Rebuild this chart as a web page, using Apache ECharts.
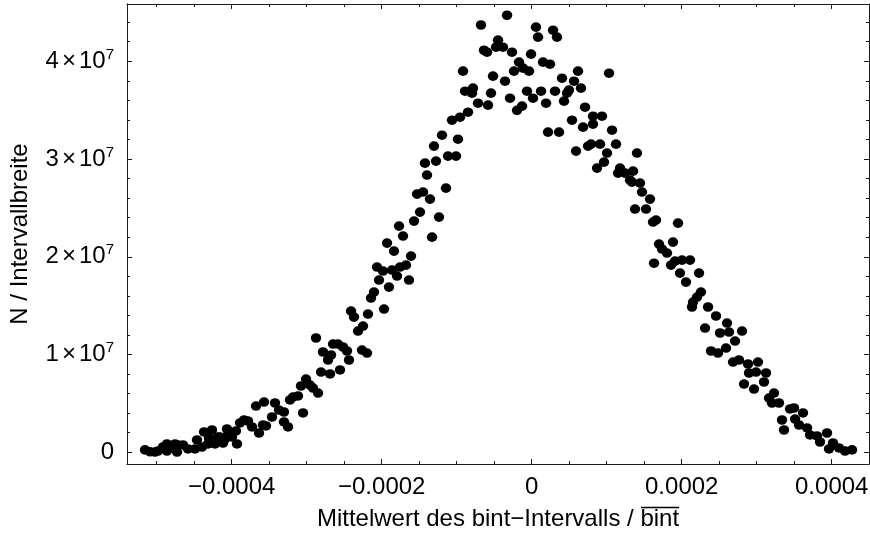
<!DOCTYPE html>
<html>
<head>
<meta charset="utf-8">
<script src="https://cdn.jsdelivr.net/npm/echarts@6/dist/echarts.min.js"></script>
<style>
html,body{margin:0;padding:0;background:#fff;}
#chart{width:870px;height:534px;}
</style>
</head>
<body>
<div id="chart"></div>
<script>
// ---------------- data ----------------
const xValues = [
  // left tail
  -5.156e-4,-5.089e-4,-5.023e-4,-4.983e-4,-4.916e-4,-4.863e-4,-4.863e-4,-4.796e-4,-4.756e-4,-4.729e-4,
  -4.716e-4,-4.649e-4,-4.583e-4,-4.489e-4,-4.463e-4,-4.396e-4,-4.369e-4,-4.316e-4,-4.303e-4,-4.263e-4,
  -4.223e-4,-4.183e-4,-4.156e-4,-4.116e-4,-4.089e-4,-4.063e-4,-4.049e-4,-3.996e-4,-3.943e-4,-3.929e-4,
  -3.889e-4,-3.836e-4,-3.783e-4,-3.729e-4,-3.676e-4,-3.636e-4,-3.583e-4,-3.569e-4,-3.543e-4,-3.463e-4,
  -3.423e-4,-3.369e-4,-3.303e-4,-3.303e-4,-3.249e-4,-3.223e-4,-3.183e-4,-3.116e-4,-3.076e-4,-3.049e-4,
  -3.009e-4,-2.956e-4,-2.916e-4,-2.849e-4,
  // rising flank
  -2.876e-4,-2.809e-4,-2.783e-4,-2.716e-4,-2.689e-4,-2.676e-4,-2.649e-4,-2.583e-4,-2.556e-4,-2.516e-4,
  -2.463e-4,-2.436e-4,-2.409e-4,-2.369e-4,-2.316e-4,-2.249e-4,-2.263e-4,-2.196e-4,-2.183e-4,-2.143e-4,
  -2.103e-4,-2.063e-4,-2.036e-4,-1.983e-4,-1.969e-4,-1.929e-4,-1.903e-4,-1.863e-4,-1.836e-4,-1.796e-4,
  -1.769e-4,-1.756e-4,-1.716e-4,-1.676e-4,-1.636e-4,-1.609e-4,-1.569e-4,-1.529e-4,-1.489e-4,-1.449e-4,
  -1.423e-4,-1.396e-4,-1.356e-4,-1.329e-4,-1.303e-4,-1.276e-4,-1.236e-4,-1.196e-4,-1.143e-4,-1.116e-4,
  -1.063e-4,-1.009e-4,-0.983e-4,-0.956e-4,-0.916e-4,-0.889e-4,-0.849e-4,-0.796e-4,-0.783e-4,-0.716e-4,
  // peak
  -0.676e-4,-0.636e-4,-0.596e-4,-0.583e-4,-0.543e-4,-0.516e-4,-0.476e-4,-0.449e-4,-0.383e-4,-0.356e-4,
  -0.329e-4,-0.289e-4,-0.263e-4,-0.236e-4,-0.196e-4,-0.169e-4,-0.129e-4,-0.116e-4,-0.063e-4,-0.036e-4,
  -0.009e-4,0.017e-4,0.057e-4,0.084e-4,0.124e-4,0.151e-4,0.191e-4,0.217e-4,0.244e-4,0.284e-4,
  0.311e-4,0.337e-4,0.364e-4,0.404e-4,0.431e-4,0.471e-4,0.497e-4,0.537e-4,0.564e-4,0.591e-4,
  0.617e-4,0.657e-4,0.684e-4,0.711e-4,0.751e-4,0.791e-4,0.817e-4,0.817e-4,0.871e-4,0.911e-4,
  0.937e-4,0.964e-4,1.004e-4,1.031e-4,1.071e-4,1.124e-4,1.151e-4,1.177e-4,1.244e-4,1.311e-4,
  1.337e-4,1.351e-4,1.404e-4,1.444e-4,1.471e-4,1.577e-4,1.377e-4,1.524e-4,
  // falling flank
  1.617e-4,1.657e-4,1.951e-4,1.697e-4,1.737e-4,1.804e-4,1.884e-4,1.631e-4,1.857e-4,1.911e-4,
  2.004e-4,2.111e-4,1.977e-4,2.231e-4,2.057e-4,2.257e-4,2.204e-4,2.151e-4,2.137e-4,2.351e-4,
  2.457e-4,2.311e-4,2.511e-4,2.604e-4,2.631e-4,2.804e-4,2.711e-4,2.391e-4,2.484e-4,2.591e-4,
  2.684e-4,2.764e-4,2.884e-4,3.017e-4,2.897e-4,2.991e-4,3.124e-4,2.831e-4,2.964e-4,3.097e-4,
  3.231e-4,3.164e-4,3.204e-4,3.297e-4,3.444e-4,3.497e-4,3.617e-4,3.337e-4,3.364e-4,3.511e-4,
  3.564e-4,3.671e-4,3.711e-4,3.804e-4,3.937e-4,3.844e-4,3.964e-4,4.017e-4,4.097e-4,4.177e-4,
  4.271e-4
];
const yValues = [
  // left tail
  0.24e6,0.05e6,0.02e6,0.13e6,0.54e6,0.85e6,0.13e6,0.54e6,0.85e6,0.02e6,
  0.75e6,0.75e6,0.34e6,0.34e6,1.26e6,0.54e6,2.08e6,0.85e6,1.46e6,2.28e6,
  0.85e6,1.56e6,1.56e6,0.95e6,1.36e6,2.38e6,1.77e6,1.56e6,2.18e6,0.85e6,
  3.00e6,3.30e6,3.20e6,2.59e6,4.73e6,1.97e6,2.79e6,5.14e6,2.69e6,3.61e6,
  5.04e6,4.32e6,4.12e6,3.10e6,2.59e6,5.35e6,5.65e6,5.76e6,6.78e6,4.02e6,
  7.49e6,6.88e6,6.57e6,6.06e6,
  // rising flank
  11.69e6,8.21e6,10.26e6,9.44e6,8.01e6,9.95e6,11.07e6,11.07e6,8.42e6,10.77e6,
  10.36e6,9.44e6,14.44e6,13.83e6,12.40e6,12.91e6,10.46e6,10.15e6,14.14e6,15.78e6,
  16.39e6,18.95e6,17.62e6,18.54e6,14.65e6,21.40e6,16.90e6,18.64e6,20.58e6,18.03e6,
  23.14e6,18.95e6,22.12e6,19.15e6,17.62e6,20.07e6,23.65e6,26.41e6,24.57e6,26.62e6,
  29.58e6,28.36e6,25.90e6,22.01e6,31.32e6,29.79e6,24.06e6,32.44e6,27.02e6,30.30e6,
  33.97e6,30.30e6,32.03e6,34.28e6,38.99e6,36.94e6,34.79e6,36.74e6,37.25e6,35.71e6,
  // peak
  43.71e6,41.13e6,40.93e6,35.51e6,36.74e6,38.48e6,41.44e6,42.16e6,41.44e6,37.96e6,
  44.71e6,36.22e6,40.93e6,38.99e6,34.98e6,39.91e6,35.41e6,39.30e6,36.94e6,38.99e6,
  40.73e6,36.22e6,43.49e6,42.47e6,36.94e6,39.91e6,35.71e6,32.75e6,39.70e6,43.18e6,
  36.94e6,42.47e6,32.75e6,38.27e6,35.92e6,36.74e6,37.05e6,33.97e6,37.96e6,30.81e6,
  38.99e6,37.25e6,33.26e6,35.30e6,31.32e6,31.52e6,33.57e6,34.38e6,29.07e6,31.52e6,
  34.38e6,29.68e6,30.61e6,38.78e6,32.95e6,31.52e6,28.56e6,29.07e6,28.56e6,27.84e6,
  27.64e6,28.76e6,30.61e6,27.54e6,26.62e6,25.90e6,24.88e6,24.88e6,
  // falling flank
  23.55e6,23.75e6,23.44e6,21.30e6,20.79e6,20.38e6,21.50e6,19.34e6,19.15e6,19.56e6,
  19.66e6,19.66e6,18.33e6,18.33e6,17.41e6,16.39e6,15.88e6,15.37e6,14.86e6,14.86e6,
  13.94e6,12.71e6,12.20e6,13.22e6,12.30e6,12.40e6,11.38e6,10.36e6,10.15e6,10.66e6,
  9.23e6,9.44e6,9.03e6,9.23e6,8.11e6,8.21e6,8.11e6,6.98e6,6.47e6,7.19e6,
  6.06e6,5.55e6,5.04e6,5.04e6,4.43e6,4.53e6,4.02e6,3.30e6,2.28e6,3.40e6,
  2.79e6,2.49e6,1.77e6,1.67e6,1.97e6,1.05e6,0.34e6,0.95e6,0.44e6,0.13e6,
  0.24e6
];

// axis ranges and ticks
const xMin = -5.396e-4, xMax = 4.497e-4;
const yMin = -1.2e6, yMax = 4.586e7;
const xTickValues = [-4e-4, -2e-4, 0, 2e-4, 4e-4];
const xTickLabels = ['\u22120.0004', '\u22120.0002', '0', '0.0002', '0.0004'];
const xMinorTickValues = [-5.0e-4,-4.5e-4,-3.5e-4,-3.0e-4,-2.5e-4,-1.5e-4,-1.0e-4,-0.5e-4,
                          0.5e-4,1.0e-4,1.5e-4,2.5e-4,3.0e-4,3.5e-4];
const yTickValues = [0, 1e7, 2e7, 3e7, 4e7];
const yTickMantissas = ['0', '1', '2', '3', '4'];
const yTickExponent = '7';
const yMinorTickValues = [2e6,4e6,6e6,8e6,12e6,14e6,16e6,18e6,22e6,24e6,26e6,28e6,
                          32e6,34e6,36e6,38e6,42e6,44e6];
const xTitleMain = 'Mittelwert des bint\u2212Intervalls / ';
const xTitleBar = 'bint';
const yTitle = 'N / Intervallbreite';

// ---------------- style ----------------
const FONT = '"Liberation Sans", Arial, Helvetica, sans-serif';
const FS = 24;
const FRAME = '#1a1a1a';
const GRID = {left: 127, right: 1, top: 4, bottom: 70};
const X_NAME_GAP = 43;

function findIdx(arr, v) {
  for (let i = 0; i < arr.length; i++) {
    if (Math.abs(arr[i] - v) <= Math.abs(arr[i]) * 1e-6 + 1e-12) return i;
  }
  return -1;
}

function xAxisDef(position, major, withLabels) {
  return {
    type: 'value', gridIndex: 0, position: position,
    min: xMin, max: xMax,
    splitLine: {show: false},
    axisLine: {show: major, onZero: false, lineStyle: {color: FRAME, width: 1}},
    axisTick: {show: true, inside: true, length: major ? 5 : 3,
      customValues: major ? xTickValues : xMinorTickValues,
      lineStyle: {color: FRAME, width: 1}},
    axisLabel: withLabels ? {
      show: true, customValues: xTickValues, margin: 11,
      fontFamily: FONT, fontSize: FS, color: '#000',
      formatter: function (v) { const i = findIdx(xTickValues, v); return i >= 0 ? xTickLabels[i] : ''; }
    } : {show: false},
    name: withLabels ? xTitleMain + xTitleBar : '',
    nameLocation: 'middle', nameGap: X_NAME_GAP,
    nameTextStyle: {fontFamily: FONT, fontSize: FS, color: '#000'}
  };
}

function yAxisDef(position, major, withLabels) {
  return {
    type: 'value', gridIndex: 0, position: position,
    min: yMin, max: yMax,
    splitLine: {show: false},
    axisLine: {show: major, onZero: false, lineStyle: {color: FRAME, width: 1}},
    axisTick: {show: true, inside: true, length: major ? 5 : 3,
      customValues: major ? yTickValues : yMinorTickValues,
      lineStyle: {color: FRAME, width: 1}},
    axisLabel: withLabels ? {
      show: true, customValues: yTickValues, margin: 13,
      fontFamily: FONT, fontSize: FS, color: '#000',
      formatter: function (v) {
        const i = findIdx(yTickValues, v);
        if (i < 0) return '';
        const m = yTickMantissas[i];
        if (m === '0') return '{m|0}';
        return '{m|' + m + '}{x|\u00d7}{m|10}{s|' + yTickExponent + '}';
      },
      rich: {
        m: {fontFamily: FONT, fontSize: FS, color: '#000', lineHeight: 28},
        x: {fontFamily: FONT, fontSize: FS, color: '#000', lineHeight: 28, padding: [0, 3, 0, 3]},
        s: {fontFamily: FONT, fontSize: 15, color: '#000', lineHeight: 15, verticalAlign: 'top'}
      }
    } : {show: false},
    name: withLabels ? yTitle : '',
    nameLocation: 'middle', nameGap: 95,
    nameTextStyle: {fontFamily: FONT, fontSize: FS, color: '#000'}
  };
}

// overline above the final "bint" of the x-axis title
function overlineGraphic() {
  const cv = document.createElement('canvas').getContext('2d');
  cv.font = FS + 'px ' + FONT;
  const wFull = cv.measureText(xTitleMain + xTitleBar).width;
  const wMain = cv.measureText(xTitleMain).width;
  const wBar = cv.measureText(xTitleBar).width;
  const plotW = 870 - GRID.left - GRID.right;
  const cx = GRID.left + plotW / 2;
  const x0 = cx - wFull / 2 + wMain;
  const axisY = 534 - GRID.bottom;
  const yBar = axisY + X_NAME_GAP + 0.5;
  return [{
    type: 'line', silent: true,
    shape: {x1: x0 + 0.5, y1: yBar, x2: x0 + wBar, y2: yBar},
    style: {stroke: '#000', lineWidth: 1.3}
  }];
}

const chart = echarts.init(document.getElementById('chart'), null, {renderer: 'canvas'});
const data = xValues.map((x, i) => [x, yValues[i]]);

chart.setOption({
  animation: false,
  backgroundColor: '#fff',
  grid: Object.assign({containLabel: false, outerBoundsMode: 'none'}, GRID),
  xAxis: [
    xAxisDef('bottom', true, true),
    xAxisDef('bottom', false, false),
    xAxisDef('top', true, false),
    xAxisDef('top', false, false)
  ],
  yAxis: [
    yAxisDef('left', true, true),
    yAxisDef('left', false, false),
    yAxisDef('right', true, false),
    yAxisDef('right', false, false)
  ],
  series: [{
    type: 'scatter',
    xAxisIndex: 0, yAxisIndex: 0,
    data: data,
    symbol: 'circle',
    symbolSize: [10.4, 9.6],
    itemStyle: {color: '#000', opacity: 1},
    emphasis: {disabled: true},
    silent: true
  }],
  graphic: overlineGraphic()
});
</script>
</body>
</html>
